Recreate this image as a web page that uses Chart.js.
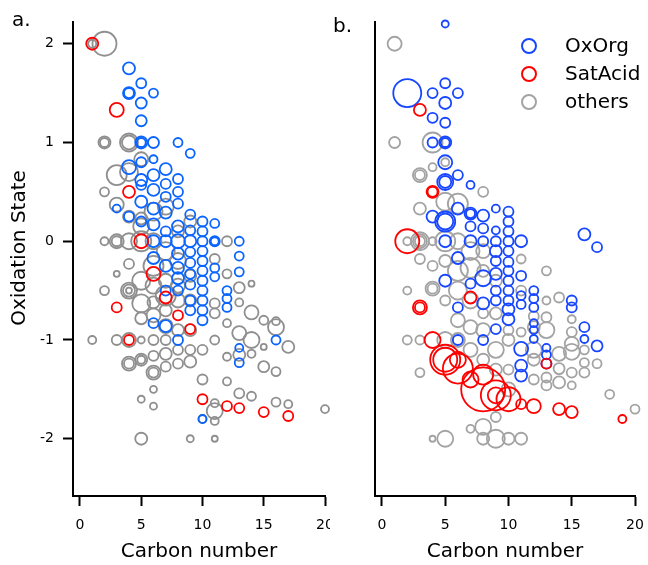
<!DOCTYPE html>
<html>
<head>
<meta charset="utf-8">
<script src="https://cdn.jsdelivr.net/npm/chart.js@4"></script>
<style>
  html, body { margin: 0; padding: 0; background: #fff; }
  #wrap { position: relative; width: 648px; height: 565px; }
  canvas { position: absolute; top: 0; }
</style>
</head>
<body>
<div id="wrap">
  <canvas id="chartA" width="330" height="565" style="left:0px"></canvas>
  <canvas id="chartB" width="318" height="565" style="left:330px"></canvas>
</div>
<script>
// [carbon number, oxidation state, bubble size]
const xTicks = [0, 5, 10, 15, 20];
const yTicks = [-2, -1, 0, 1, 2];
const seriesNames = ['OxOrg', 'SatAcid', 'others'];

const aOxOrg = [
  [4,1.75,6],[5,1.6,5],[4,1.5,6],[4,1.5,5],[6,1.5,4.5],[5,1.4,5.5],[5,1.22,5.5],[5,1.0,6],[6,1.0,5.5],[5,1.0,4.5],
  [8,1.0,4.5],[9,0.89,4.5],[6,0.83,4],[4,0.75,7],[5,0.8,5],[7,0.73,6],[5,0.62,6],[6,0.67,6],[8,0.63,5],[8,0.5,5],
  [7,0.58,5],[6,0.52,6],[5,0.57,5],[7,0.45,5],[5,0.4,6],[3,0.33,4],[6,0.33,6],[8,0.38,5],[7,0.29,6],[4,0.25,5],
  [9,0.27,5],[6,0.17,6],[8,0.15,6],[10,0.2,5],[9,0.11,5],[7,0.1,5],[8,0,7],[9,0,6],[10,0,5],[7,0,6],[6,0,6],
  [11,0.18,4.5],[11,0,5],[11,0,4],[13,0,4.5],[10,0.1,5],[10,-0.1,5],[9,-0.11,5],[8,-0.125,6],[6,-0.17,6],[9,-0.22,5],
  [10,-0.2,5],[8,-0.27,6],[9,-0.33,5],[10,-0.3,5],[8,-0.375,6],[10,-0.4,5],[9,-0.44,5],[10,-0.5,5],[8,-0.5,5],[7,-0.5,5],
  [10,-0.6,5],[10,-0.7,5],[10,-0.8,5],[6,-0.83,5],[7,-0.86,6],[13,-0.15,4.5],[13,-0.31,4.5],[11,-0.27,4.5],[11,-0.36,4.5],
  [12,-0.5,4.5],[12,-0.58,4.5],[12,-0.67,4.5],[16,-1.0,4.5],[13,-1.08,4],[13,-1.23,4.5],[10,-1.8,4],[8,-1.0,5],
  [9,-0.6,5],[9,-0.7,5],[7,-0.25,6],[5,0.2,5]
];
const aSatAcid = [
  [1,2.0,6],[3,1.33,7],[4,0.5,6],[5,0,7],[6,-0.33,7],[7,-0.57,6],[3,-0.67,5],[8,-0.75,5],[9,-0.89,5],[4,-1.0,5],
  [10,-1.6,5],[12,-1.67,5],[13,-1.69,5],[15,-1.73,5],[17,-1.77,5]
];
const aOthers = [
  [1,2.0,4],[2,2.0,12],[2,1.0,6],[2,1.0,4.5],[4,1.0,9],[4,1.0,7],[5,0.83,7],[3,0.67,10],[4,0.7,9],[2,0.5,4.5],
  [3,0.37,7],[5,0.23,6],[2,0,4],[3,0,7],[3,0,5],[4,0,8],[6,0,8],[5,0,10],[2,-0.5,4.5],[3,-0.33,3],[4,-0.5,8],
  [4,-0.5,6],[4,-0.5,3],[5,-0.4,9],[4,-0.23,5],[5,-0.63,9],[5,-0.78,6],[6,-0.62,6],[7,-0.4,7],[1,-1.0,4],[4,-1.0,7],
  [5,-1.0,3.5],[6,-1.0,5],[7,-0.86,7],[6,-1.16,5],[7,-1.14,6],[5,-1.2,6],[5,-1.2,4],[4,-1.24,7],[4,-1.24,5],[6,-1.33,7],
  [6,-1.33,5],[7,-1.27,5],[8,-1.24,5],[9,-1.22,6],[9,-1.1,5],[10,-1.1,5],[10,-1.4,5],[6,-1.5,3.5],[5,-1.6,3.5],
  [6,-1.67,3.5],[5,-2.0,6],[9,-2.0,3.5],[11,-2.0,3],[10,-1.8,4],[11,-1.72,8],[12,0,5],[11,-0.18,5],[12,-0.33,4.5],
  [14,-0.43,3],[13,-0.47,5.5],[13,-0.62,4],[11,-0.63,5],[11,-0.73,5],[14,-0.72,7],[15,-0.8,4.5],[16,-0.81,4],
  [16,-0.87,8],[12,-0.83,4],[13,-0.93,7],[14,-1.0,8],[11,-1.0,4.5],[15,-1.07,3],[17,-1.07,6],[13,-1.15,6],[14,-1.14,4],
  [12,-1.17,4],[15,-1.27,5.5],[16,-1.32,4.5],[12,-1.42,4],[13,-1.54,5],[14,-1.57,4.5],[11,-1.64,4],[16,-1.63,4.5],
  [17,-1.65,4],[20,-1.7,4],[11,-1.82,4],[6,-0.25,10],[7,-0.1,9],[8,-0.2,8],[6,0.3,9],[7,0.35,8],[5,0.15,8],
  [8,-0.6,7],[9,-0.6,6],[9,0.2,6],[6,-0.75,7],[7,-0.7,6],[8,0.1,6],[4,0.25,6],[9,-0.35,6],[3,-1.0,5],[8,-0.9,6],
  [9,-0.9,6],[7,-1.0,5],[8,-1.1,5],[6,-0.45,8],[7,-0.55,10],[8,-0.45,7]
];

const bOxOrg = [
  [5,2.2,3.5],[2,1.5,14],[5,1.6,5],[4,1.5,5],[6,1.5,5],[5,1.4,6],[4,1.25,5],[5,1.2,5],[4,1.0,5],[5,1.0,6],
  [5,1.0,4.5],[5,0.8,7],[5,0.6,8],[5,0.6,6],[6,0.67,5],[7,0.57,4],[4,0.25,6],[5,0.2,10],[5,0.2,8],[6,0.33,6],
  [7,0.28,6],[7,0.28,4.5],[8,0.26,6],[9,0.33,4],[10,0.3,5],[7,0.15,5],[8,0.13,5],[9,0.11,4],[10,0.2,5],[10,0.1,5],
  [5,0,6],[7,0,6],[8,0,5],[9,0,5],[10,0,5],[11,0,6],[9,-0.1,6],[10,-0.1,5],[6,-0.17,6],[10,-0.21,5],[8,-0.375,8],
  [9,-0.33,6],[10,-0.3,5],[5,-0.4,6],[10,-0.4,5],[7,-0.43,5],[10,-0.5,5],[8,-0.63,6],[10,-0.6,5],[6,-0.67,5],
  [10,-0.69,6],[10,-0.79,6],[16,0.07,6],[17,-0.06,5],[11,-0.35,5],[11,-0.55,4.5],[11,-0.64,4.5],[12,-0.5,4.5],
  [12,-0.58,4.5],[12,-0.67,4.5],[15,-0.6,5],[15,-0.67,5],[12,-0.83,4],[12,-0.9,4],[12,-0.99,4],[16,-0.87,5],
  [16,-0.99,4],[17,-1.06,5.5],[13,-1.08,4],[13,-1.15,4.5],[11,-1.09,7],[11,-1.26,6],[11,-1.36,6],[8,-1.0,5],
  [9,-0.89,5],[6,-1.0,5],[9,-0.2,5],[9,-0.5,5],[9,-0.6,5],[13,-1.24,5]
];
const bSatAcid = [
  [3,1.33,6],[4,0.5,6],[4,0.5,5],[2,0,12],[7,-0.57,6],[3,-0.67,7],[3,-0.67,5],[4,-1.0,8],[5,-1.2,15],[5,-1.2,12],
  [6,-1.29,15],[7,-1.4,8],[8,-1.5,22],[9,-1.56,15],[9,-1.56,8],[10,-1.6,12],[11,-1.65,5],[12,-1.67,7],[13,-1.24,5],
  [14,-1.7,6],[15,-1.73,6],[19,-1.8,4],[6,-1.2,8],[8,-1.35,10]
];
const bOthers = [
  [1,2.0,7],[1,1.0,5.5],[4,1.0,10],[5,0.8,4],[4,0.75,4],[3,0.67,7],[3,0.67,5],[8,0.5,5],[3,0.33,6],[5,0.4,9],
  [6,0.38,10],[2,0,4],[3,0,9],[3,0,7],[3,0,5],[4,0,4],[5,0,10],[6,0,8],[3,-0.18,5],[4,-0.25,5],[6,-0.3,10],
  [7,-0.27,10],[2,-0.5,4],[4,-0.48,7],[4,-0.48,5],[5,-0.6,5],[7,-0.87,7],[8,-0.73,5],[9,-0.73,6],[2,-1.0,4.5],
  [3,-1.0,4.5],[5,-1.0,8],[6,-1.0,7],[3,-1.33,4.5],[4,-2.0,3],[5,-2.0,8],[8,-1.88,8],[9,-1.78,5],[8,-2.0,6],
  [9,-2.0,9],[10,-2.0,6],[11,-2.0,6],[11,-0.18,4.5],[13,-0.3,4.5],[14,-0.57,5],[13,-0.6,4],[13,-0.77,5],
  [15,-0.79,4],[13,-0.9,8],[15,-0.92,5],[15,-1.04,7],[15,-1.12,8],[16,-1.1,4.5],[14,-1.14,7],[16,-1.23,4.5],
  [17,-1.24,4.5],[14,-1.29,5.5],[15,-1.33,5],[16,-1.33,5],[13,-1.38,5],[14,-1.43,6],[13,-1.46,5],[15,-1.46,4],
  [18,-1.55,4.5],[20,-1.7,4.5],[12,-0.76,5],[11,-0.92,4.5],[12,-0.87,6],[7,-0.1,9],[8,-0.1,7],[6,-0.5,9],
  [7,-0.6,8],[8,-0.9,7],[9,-1.1,8],[10,-1.0,6],[7,-1.1,7],[8,-1.2,6],[9,-1.3,6],[10,-1.3,5],[10,-1.5,7],
  [12,-1.2,6],[12,-1.4,5],[11,-0.5,5],[10,-0.9,5],[9,-0.4,6],[8,-0.3,6],[5,-0.2,6],[6,-0.8,7],[7,-1.9,4],[12,-1.1,8]
];

const FONT = '"DejaVu Sans", "Lucida Grande", sans-serif';

function toPoints(rows){
  return rows.map(function(p){ return {x: p[0], y: p[1], r: p[2]}; });
}

function makeDataset(label, rows, color, order){
  return {
    label: label,
    data: toPoints(rows),
    borderColor: color,
    backgroundColor: 'rgba(0,0,0,0)',
    borderWidth: 1.8,
    hoverBorderWidth: 1.8,
    order: order,
    clip: false
  };
}

// panel letters, y title and the legend
const panelDecor = {
  id: 'panelDecor',
  afterDraw(chart, args, opts){
    const ctx = chart.ctx;
    ctx.save();
    ctx.fillStyle = '#000';
    ctx.textBaseline = 'middle';
    ctx.font = '20px ' + FONT;
    ctx.fillText(opts.tag, opts.tagX, opts.tagY);
    if (opts.yTitle){
      ctx.save();
      ctx.translate(opts.yTitleX, opts.yTitleY);
      ctx.rotate(-Math.PI / 2);
      ctx.textAlign = 'center';
      ctx.fillText(opts.yTitle, 0, 0);
      ctx.restore();
    }
    if (opts.legend){
      seriesNames.forEach(function(name, i){
        const ds = chart.data.datasets.find(function(d){ return d.label === name; });
        const y = opts.legendY + i * 28;
        ctx.beginPath();
        ctx.arc(opts.legendX, y, 7, 0, Math.PI * 2);
        ctx.lineWidth = 2;
        ctx.strokeStyle = ds.borderColor;
        ctx.stroke();
        ctx.fillStyle = '#000';
        ctx.fillText(name, opts.legendX + 36, y + 1);
      });
    }
    ctx.restore();
  }
};

function renderPanel(el, cfg){
  return new Chart(el, {
    type: 'bubble',
    data: {
      datasets: [
        makeDataset('OxOrg', cfg.ox, cfg.blue, 1),
        makeDataset('SatAcid', cfg.sat, '#ff0000', 0),
        makeDataset('others', cfg.oth, cfg.gray, 2)
      ]
    },
    options: {
      responsive: false,
      animation: false,
      events: [],
      devicePixelRatio: 1,
      layout: { autoPadding: false, padding: { top: 22, right: cfg.padRight, left: 0, bottom: 0 } },
      scales: {
        x: {
          type: 'linear',
          min: cfg.xMin,
          max: 20,
          afterBuildTicks: function(scale){ scale.ticks = xTicks.map(function(v){ return {value: v}; }); },
          afterFit: function(scale){
            scale.height = 69;
            scale.paddingLeft = 0;
            scale.paddingRight = 0;
          },
          grid: { drawOnChartArea: false, drawTicks: true, tickLength: 10, tickWidth: 2, tickColor: '#000' },
          border: { display: true, color: '#000', width: 2 },
          ticks: { color: '#000', padding: 11, font: { family: FONT, size: 14 }, maxRotation: 0 },
          title: { display: true, text: 'Carbon number', color: '#000', font: { family: FONT, size: 20 }, padding: { top: 0, bottom: 1 } }
        },
        y: {
          type: 'linear',
          min: -2.58,
          max: 2.22,
          afterBuildTicks: function(scale){ scale.ticks = yTicks.map(function(v){ return {value: v}; }); },
          afterFit: function(scale){
            scale.width = cfg.yWidth;
            scale.paddingTop = 0;
            scale.paddingBottom = 0;
          },
          grid: { display: cfg.yLabels, drawOnChartArea: false, drawTicks: true, tickLength: 10, tickWidth: 2, tickColor: '#000' },
          border: { display: true, color: '#000', width: 2 },
          ticks: { display: cfg.yLabels, color: '#000', padding: 9, font: { family: FONT, size: 14 } }
        }
      },
      plugins: {
        legend: { display: false },
        tooltip: { enabled: false },
        panelDecor: cfg.decor
      }
    },
    plugins: [panelDecor]
  });
}

renderPanel(document.getElementById('chartA'), {
  ox: aOxOrg, sat: aSatAcid, oth: aOthers,
  blue: '#0a64ff', gray: '#8f8f8f',
  xMin: -0.57, padRight: 5, yWidth: 73, yLabels: true,
  decor: { tag: 'a.', tagX: 12, tagY: 21, legend: false, yTitle: 'Oxidation State', yTitleX: 20, yTitleY: 248 }
});

renderPanel(document.getElementById('chartB'), {
  ox: bOxOrg, sat: bSatAcid, oth: bOthers,
  blue: '#1646ff', gray: '#a3a3a3',
  xMin: -0.55, padRight: 13, yWidth: 45, yLabels: false,
  decor: { tag: 'b.', tagX: 3, tagY: 27, legend: true, legendX: 199, legendY: 46 }
});
</script>
</body>
</html>
